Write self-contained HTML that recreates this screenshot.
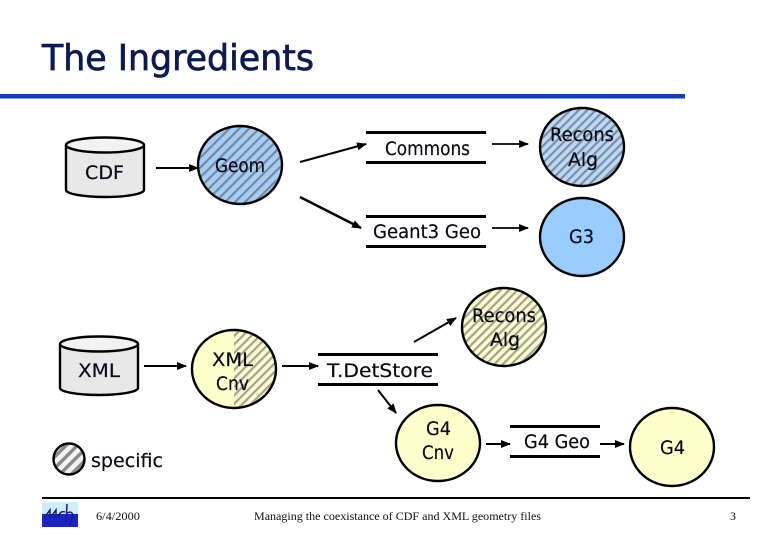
<!DOCTYPE html>
<html><head><meta charset="utf-8"><style>
html,body{margin:0;padding:0;background:#fff}
svg{display:block}
text{font-family:"DejaVu Sans","Liberation Sans",sans-serif;font-size:19px;fill:#0a0a14;stroke:#0a0a14;stroke-width:.2px}
.s{font-family:"Liberation Serif",serif;font-size:12px;fill:#111;stroke:none}
</style></head><body>
<svg width="780" height="540" viewBox="0 0 780 540" xmlns="http://www.w3.org/2000/svg">
<defs>
<marker id="a" markerWidth="12" markerHeight="10" refX="9" refY="4" orient="auto" markerUnits="userSpaceOnUse"><path d="M0 0L10 4L0 8Z" fill="#000"/></marker>
<pattern id="h1" width="7" height="7" patternUnits="userSpaceOnUse" patternTransform="rotate(45)"><rect width="7" height="7" fill="#a6cdf5"/><rect width="2.2" height="7" fill="#75899f"/></pattern>
<pattern id="h2" width="6" height="6" patternUnits="userSpaceOnUse" patternTransform="rotate(45)"><rect width="6" height="6" fill="#bcd8f2"/><rect width="2.2" height="6" fill="#7a8ea5"/></pattern>
<pattern id="h3" width="6" height="6" patternUnits="userSpaceOnUse" patternTransform="rotate(45)"><rect width="6" height="6" fill="#fdfbd0"/><rect width="2.2" height="6" fill="#a3a38c"/></pattern>
<pattern id="h4" width="8" height="8" patternUnits="userSpaceOnUse" patternTransform="rotate(45)"><rect width="8" height="8" fill="#f4f4f4"/><rect width="3.4" height="8" fill="#8a8a8a"/></pattern>
<clipPath id="rh"><rect x="234" y="325" width="50" height="90"/></clipPath>
</defs>

<text x="42" y="70" textLength="272" lengthAdjust="spacingAndGlyphs" style="font-size:36px;fill:#0b1a52;stroke:#0b1a52;stroke-width:.7px">The Ingredients</text>
<rect x="0" y="94" width="685" height="4.5" fill="#0c40c0"/>

<!-- CDF -->
<path d="M66 145V190A39 7 0 0 0 144 190V145" fill="#e8e8e8" stroke="#000" stroke-width="2.4"/>
<ellipse cx="105" cy="145" rx="39" ry="7.5" fill="#f2f2f2" stroke="#000" stroke-width="2.4"/>
<text x="85" y="179" textLength="39" lengthAdjust="spacingAndGlyphs">CDF</text>
<line x1="156" y1="168" x2="198" y2="168" stroke="#000" stroke-width="2" marker-end="url(#a)"/>
<ellipse cx="240" cy="165" rx="42" ry="39" fill="url(#h1)" stroke="#000" stroke-width="2.4"/>
<text x="215" y="172" textLength="50" lengthAdjust="spacingAndGlyphs">Geom</text>

<!-- arrows from Geom -->
<line x1="300" y1="162" x2="366" y2="144" stroke="#000" stroke-width="2.2" marker-end="url(#a)"/>
<line x1="300" y1="197" x2="361" y2="228" stroke="#000" stroke-width="2.4" marker-end="url(#a)"/>

<!-- Commons -->
<rect x="366" y="131" width="120" height="3" fill="#000"/>
<rect x="366" y="161" width="120" height="3" fill="#000"/>
<text x="385" y="155" textLength="85" lengthAdjust="spacingAndGlyphs">Commons</text>
<line x1="492" y1="144" x2="528" y2="144" stroke="#000" stroke-width="1.8" marker-end="url(#a)"/>
<ellipse cx="582" cy="147" rx="42" ry="39" fill="url(#h2)" stroke="#000" stroke-width="2.4"/>
<text x="550" y="141" textLength="64" lengthAdjust="spacingAndGlyphs">Recons</text>
<text x="568" y="166" textLength="30" lengthAdjust="spacingAndGlyphs">Alg</text>

<!-- Geant3 -->
<rect x="366" y="215" width="120" height="3" fill="#000"/>
<rect x="366" y="245" width="120" height="3" fill="#000"/>
<text x="373" y="238" textLength="108" lengthAdjust="spacingAndGlyphs">Geant3 Geo</text>
<line x1="492" y1="228" x2="528" y2="228" stroke="#000" stroke-width="1.8" marker-end="url(#a)"/>
<ellipse cx="582" cy="237" rx="42" ry="39" fill="#99ccff" stroke="#000" stroke-width="2.4"/>
<text x="569" y="243" textLength="25" lengthAdjust="spacingAndGlyphs">G3</text>

<!-- XML -->
<path d="M60 344V388A39 7 0 0 0 138 388V344" fill="#e8e8e8" stroke="#000" stroke-width="2.4"/>
<ellipse cx="99" cy="344" rx="39" ry="7.5" fill="#f2f2f2" stroke="#000" stroke-width="2.4"/>
<text x="78" y="377" textLength="42" lengthAdjust="spacingAndGlyphs">XML</text>
<line x1="144" y1="366" x2="186" y2="366" stroke="#000" stroke-width="2" marker-end="url(#a)"/>
<ellipse cx="234" cy="369" rx="42" ry="39" fill="#ffffcc"/>
<ellipse cx="234" cy="369" rx="42" ry="39" fill="url(#h3)" clip-path="url(#rh)"/>
<ellipse cx="234" cy="369" rx="42" ry="39" fill="none" stroke="#000" stroke-width="2.4"/>
<text x="212" y="366" textLength="41" lengthAdjust="spacingAndGlyphs">XML</text>
<text x="216" y="390" textLength="33" lengthAdjust="spacingAndGlyphs">Cnv</text>
<line x1="282" y1="366" x2="318" y2="366" stroke="#000" stroke-width="2" marker-end="url(#a)"/>

<!-- T.DetStore -->
<rect x="318" y="353" width="120" height="3" fill="#000"/>
<rect x="318" y="383" width="120" height="3" fill="#000"/>
<text x="327" y="377" textLength="106" lengthAdjust="spacingAndGlyphs">T.DetStore</text>
<line x1="414" y1="342" x2="456" y2="318" stroke="#000" stroke-width="2" marker-end="url(#a)"/>
<ellipse cx="504" cy="327" rx="42" ry="39" fill="url(#h3)" stroke="#000" stroke-width="2.4"/>
<text x="472" y="322" textLength="64" lengthAdjust="spacingAndGlyphs">Recons</text>
<text x="490" y="346" textLength="30" lengthAdjust="spacingAndGlyphs">Alg</text>
<line x1="378" y1="390" x2="396" y2="413" stroke="#000" stroke-width="2" marker-end="url(#a)"/>

<!-- G4 Cnv -->
<ellipse cx="438" cy="443" rx="42" ry="38" fill="#ffffcc" stroke="#000" stroke-width="2.4"/>
<text x="426" y="435" textLength="25" lengthAdjust="spacingAndGlyphs">G4</text>
<text x="422" y="459" textLength="32" lengthAdjust="spacingAndGlyphs">Cnv</text>
<line x1="486" y1="444" x2="510" y2="444" stroke="#000" stroke-width="2" marker-end="url(#a)"/>

<!-- G4 Geo -->
<rect x="510" y="425" width="90" height="3" fill="#000"/>
<rect x="510" y="455" width="90" height="3" fill="#000"/>
<text x="524" y="448" textLength="66" lengthAdjust="spacingAndGlyphs">G4 Geo</text>
<line x1="600" y1="444" x2="624" y2="444" stroke="#000" stroke-width="2" marker-end="url(#a)"/>
<ellipse cx="672" cy="447" rx="42" ry="39" fill="#ffffcc" stroke="#000" stroke-width="2.4"/>
<text x="660" y="454" textLength="25" lengthAdjust="spacingAndGlyphs">G4</text>

<!-- legend -->
<ellipse cx="69" cy="459" rx="15.5" ry="15.5" fill="url(#h4)" stroke="#000" stroke-width="2.4"/>
<text x="91" y="467" textLength="72" lengthAdjust="spacingAndGlyphs">specific</text>

<!-- footer -->
<rect x="42" y="497" width="708" height="2" fill="#000"/>
<rect x="42" y="502" width="36" height="12" fill="#cfeefa"/>
<rect x="42" y="514" width="36" height="13" fill="#1a22c8"/>
<path d="M44 518L50 510L50 518L56 510L56 518M58 518Q60 510 65 512M67 504L66 522M67 513Q74 510 72 518L70 525" fill="none" stroke="#141c8c" stroke-width="1.5"/>
<text class="s" x="96" y="520" textLength="44" lengthAdjust="spacingAndGlyphs">6/4/2000</text>
<text class="s" x="254" y="520" textLength="287" lengthAdjust="spacingAndGlyphs">Managing the coexistance of CDF and XML geometry files</text>
<text class="s" x="730" y="520">3</text>
</svg>
</body></html>
